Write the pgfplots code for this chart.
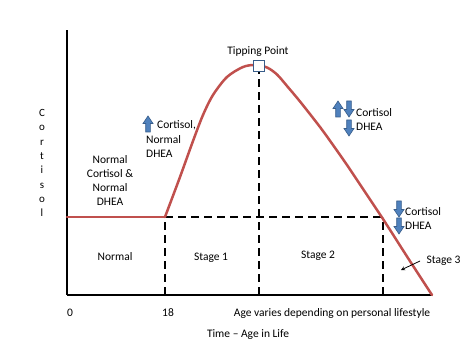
\documentclass[border=0pt]{standalone}
\usepackage{pgfplots}
\pgfplotsset{compat=1.18}
\usepackage{fontspec}
\setmainfont{Carlito}
\definecolor{cred}{HTML}{C0504D}
\definecolor{cblue}{HTML}{4F81BD}
\definecolor{cbdark}{HTML}{385D8A}
\newcommand{\uparr}[2]{\draw[cbdark, fill=cblue, line width=0.6pt, shift={(axis cs:#1,#2)}] (-2.3pt,-8pt)--(2.3pt,-8pt)--(2.3pt,0.5pt)--(5pt,0.5pt)--(0pt,8pt)--(-5pt,0.5pt)--(-2.3pt,0.5pt)--cycle;}
\newcommand{\downarr}[2]{\draw[cbdark, fill=cblue, line width=0.6pt, shift={(axis cs:#1,#2)}] (-2.3pt,8pt)--(2.3pt,8pt)--(2.3pt,-0.5pt)--(5pt,-0.5pt)--(0pt,-8pt)--(-5pt,-0.5pt)--(-2.3pt,-0.5pt)--cycle;}
\begin{document}
\begin{tikzpicture}[font=\fontsize{11.5}{14}\selectfont]
\begin{axis}[
 scale only axis, width=365pt, height=265pt,
 xmin=67, xmax=432, ymin=0, ymax=265,
 axis lines=left, axis line style={line width=2.2pt, -},
 xtick={70,168,332}, xticklabels={0,18,Age varies depending on personal lifestyle},
 ytick=\empty, major tick length=0pt,
 xticklabel style={anchor=center, yshift=-18pt},
 xlabel={Time -- Age in Life},
 x label style={at={(axis description cs:0.496,-0.151)}, anchor=center},
 ylabel={C\\o\\r\\t\\i\\s\\o\\l},
 y label style={rotate=-90, at={(axis description cs:-0.0685,0.498)}, anchor=center, align=center, font=\fontsize{11}{14.3}\selectfont},
 clip=false,
]
% dashed stage boundaries
\addplot[black, line width=1.6pt, dash pattern=on 8pt off 5pt] coordinates {(165,78)(383,78)};
\addplot[black, line width=1.6pt, dash pattern=on 8pt off 5pt] coordinates {(165,0)(165,78)};
\addplot[black, line width=1.6pt, dash pattern=on 8pt off 5pt] coordinates {(259,0)(259,223)};
\addplot[black, line width=1.6pt, dash pattern=on 8pt off 5pt] coordinates {(383,0)(383,78)};
% cortisol curve
\addplot[cred, line width=2.5pt, line cap=round] coordinates {(67,78)(165,78)};
\addplot[cred, line width=2.5pt, smooth, line cap=round] coordinates {(165,78)(180,118)(193,154)(203,180)(213,200)(227,218)(243,228)(255,230)(267,227.5)(277,220.5)(287,209)(300,193.5)(320,168)(333,150)(347,130)(360,110.5)(383,76)(407,38.5)(432,0)};
% tipping point marker
\addplot[only marks, mark=square*, mark size=5.5pt, mark options={fill=white, draw=cbdark, line width=1pt}] coordinates {(259,229)};
\node at (axis cs:258,243) {Tipping Point};
% region labels
\node[align=center] at (axis cs:110,114) {Normal\\Cortisol \&\\Normal\\DHEA};
\node at (axis cs:115,38) {Normal};
\node at (axis cs:211,37) {Stage 1};
\node at (axis cs:318,39) {Stage 2};
\node[anchor=base west] at (axis cs:423,31) {Stage 3};
\draw[-stealth, line width=0.8pt] (axis cs:420,34) -- (axis cs:401,25);
% stage 1 annotation
\uparr{148}{171}
\node[anchor=base west, inner sep=0pt] at (axis cs:157,166) {Cortisol,};
\node[anchor=base west, inner sep=0pt] at (axis cs:146,151) {Normal};
\node[anchor=base west, inner sep=0pt] at (axis cs:146,137) {DHEA};
% stage 2 annotation
\uparr{338}{186}
\downarr{349}{186}
\downarr{349}{167}
\node[anchor=base west, inner sep=0pt] at (axis cs:356,178) {Cortisol};
\node[anchor=base west, inner sep=0pt] at (axis cs:356,164) {DHEA};
% stage 3 annotation
\downarr{399}{86}
\downarr{399}{69}
\node[anchor=base west, inner sep=0pt] at (axis cs:405,79) {Cortisol};
\node[anchor=base west, inner sep=0pt] at (axis cs:405,65) {DHEA};
\end{axis}
\pgfresetboundingbox
\path (-67pt,-60pt) rectangle (407pt,295pt);
\end{tikzpicture}
\end{document}
